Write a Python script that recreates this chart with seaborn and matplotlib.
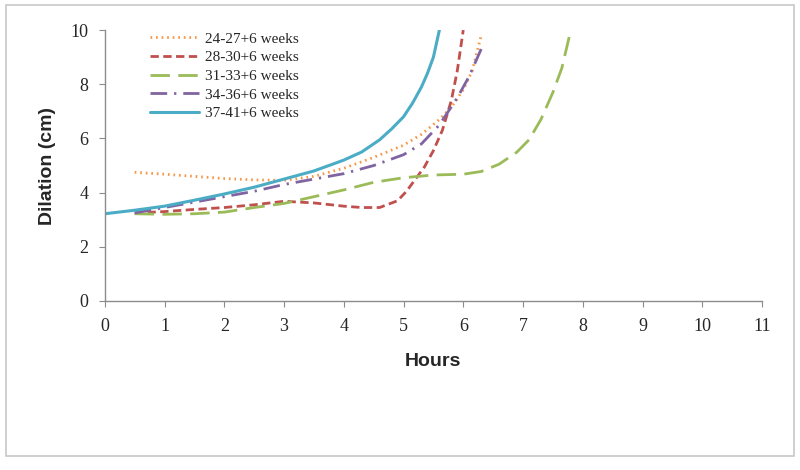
import matplotlib
matplotlib.use("Agg")
import matplotlib.pyplot as plt
import seaborn as sns
import pandas as pd
from matplotlib.patches import Rectangle

# values
x_24 = [0.5, 1.0, 1.5, 2.0, 2.5, 3.0, 3.5, 4.0, 4.5, 5.0, 5.3, 5.6, 5.8, 6.0, 6.15, 6.3]
y_24 = [4.75, 4.68, 4.6, 4.52, 4.47, 4.45, 4.6, 4.9, 5.3, 5.75, 6.15, 6.7, 7.15, 7.8, 8.5, 9.8]

x_28 = [0.5, 1.0, 1.5, 2.0, 2.5, 3.0, 3.5, 4.0, 4.3, 4.6, 4.9, 5.05, 5.2, 5.35, 5.5, 5.65, 5.8, 5.9, 6.0]
y_28 = [3.25, 3.3, 3.38, 3.45, 3.55, 3.68, 3.62, 3.5, 3.45, 3.45, 3.7, 4.05, 4.5, 4.95, 5.55, 6.3, 7.4, 8.5, 10.0]

x_31 = [0.5, 1.0, 1.5, 2.0, 2.5, 3.0, 3.5, 4.0, 4.5, 5.0, 5.5, 6.0, 6.3, 6.6, 6.9, 7.1, 7.3, 7.5, 7.65, 7.8]
y_31 = [3.22, 3.2, 3.22, 3.28, 3.45, 3.6, 3.85, 4.1, 4.38, 4.55, 4.65, 4.68, 4.78, 5.05, 5.5, 5.95, 6.7, 7.7, 8.6, 10.0]

x_34 = [0.5, 1.0, 1.5, 2.0, 2.5, 3.0, 3.5, 4.0, 4.5, 5.0, 5.3, 5.6, 5.9, 6.1, 6.3]
y_34 = [3.25, 3.45, 3.65, 3.85, 4.05, 4.3, 4.5, 4.7, 5.0, 5.4, 5.8, 6.5, 7.5, 8.3, 9.3]

x_37 = [0, 0.5, 1.0, 1.5, 2.0, 2.5, 3.0, 3.5, 4.0, 4.3, 4.6, 4.8, 5.0, 5.15, 5.3, 5.4, 5.5, 5.6]
y_37 = [3.22, 3.35, 3.5, 3.72, 3.95, 4.2, 4.5, 4.8, 5.2, 5.5, 5.95, 6.35, 6.8, 7.3, 7.9, 8.4, 9.0, 10.0]

labels = ["24-27+6 weeks", "28-30+6 weeks", "31-33+6 weeks", "34-36+6 weeks", "37-41+6 weeks"]
colors = ["#F79646", "#C0504D", "#9BBB59", "#8064A2", "#4BACC6"]
styles = [(0, (0.6, 1.4)), (0, (3, 1.6)), (0, (7, 3)), (0, (6, 2.5, 0.8, 2.5)), "-"]

sns.set_style("white")
plt.rcParams["font.family"] = ["Liberation Serif", "DejaVu Serif"]

fig = plt.figure(figsize=(8, 4.7), dpi=100)
fig.patches.append(Rectangle((0.007, 0.03), 0.986, 0.96, transform=fig.transFigure,
                             fill=False, edgecolor="#c8c8c8", linewidth=1.2))
ax = fig.add_axes([0.131, 0.3596, 0.8215, 0.5764])

series = [(x_24, y_24), (x_28, y_28), (x_31, y_31), (x_34, y_34), (x_37, y_37)]
for (xs, ys), lab, col, ls in zip(series, labels, colors, styles):
    df = pd.DataFrame({"Hours": xs, "Dilation": ys})
    lw = 2.2 if ls == "-" else 2.0
    sns.lineplot(data=df, x="Hours", y="Dilation", ax=ax, color=col, linestyle=ls,
                 linewidth=lw, label=lab, sort=False, dash_capstyle="butt")

ax.set_xlim(0, 11)
ax.set_ylim(0, 10)
ax.set_xticks(range(0, 12))
ax.set_yticks(range(0, 11, 2))
ax.tick_params(axis="both", labelsize=13, length=4, color="#8c8c8c", direction="out",
               bottom=True, left=True, pad=8)
for side in ["top", "right"]:
    ax.spines[side].set_visible(False)
for side in ["left", "bottom"]:
    ax.spines[side].set_color("#8c8c8c")
    ax.spines[side].set_linewidth(1.0)

ax.set_xlabel("Hours", fontsize=14, fontweight="bold", family=["Liberation Sans", "DejaVu Sans"], labelpad=13)
ax.set_ylabel("Dilation (cm)", fontsize=14, fontweight="bold", family=["Liberation Sans", "DejaVu Sans"], labelpad=10)

leg = ax.legend(loc="upper left", bbox_to_anchor=(0.06, 1.015), frameon=False, fontsize=11,
                handlelength=3.2, handletextpad=0.4, labelspacing=0.32, borderaxespad=0)

fig.savefig("out.png", dpi=100)
